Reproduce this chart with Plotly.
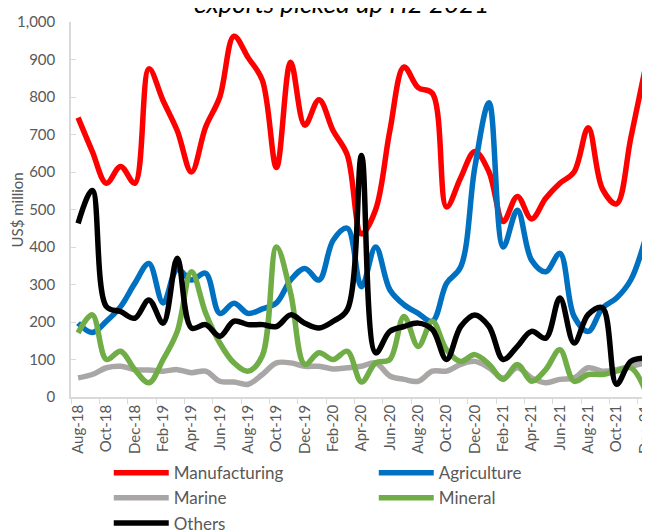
import plotly.graph_objects as go

months = ["Aug-18", "Sep-18", "Oct-18", "Nov-18", "Dec-18", "Jan-19", "Feb-19", "Mar-19", "Apr-19",
          "May-19", "Jun-19", "Jul-19", "Aug-19", "Sep-19", "Oct-19", "Nov-19", "Dec-19", "Jan-20",
          "Feb-20", "Mar-20", "Apr-20", "May-20", "Jun-20", "Jul-20", "Aug-20", "Sep-20", "Oct-20",
          "Nov-20", "Dec-20", "Jan-21", "Feb-21", "Mar-21", "Apr-21", "May-21", "Jun-21", "Jul-21",
          "Aug-21", "Sep-21", "Oct-21", "Nov-21", "Dec-21"]

manufacturing = [745, 655, 570, 615, 570, 875, 790, 710, 600, 720, 800, 962, 905, 845, 612, 893, 725,
                 793, 710, 645, 435, 500, 710, 880, 825, 810, 507, 585, 655, 600, 468, 535, 475, 530,
                 570, 600, 718, 555, 515, 690, 872]
agriculture = [197, 172, 202, 241, 303, 356, 251, 340, 312, 330, 223, 250, 223, 235, 251, 312, 343,
               312, 418, 450, 294, 400, 286, 246, 223, 202, 303, 347, 613, 785, 400, 498, 365, 334,
               383, 215, 175, 237, 264, 312, 418]
marine = [51, 60, 78, 82, 73, 72, 69, 73, 65, 69, 42, 40, 34, 60, 91, 91, 82, 82, 75, 78, 82, 91, 56,
          47, 42, 69, 69, 87, 95, 78, 51, 78, 51, 38, 47, 51, 78, 69, 73, 82, 91]
mineral = [171, 219, 100, 122, 73, 38, 100, 175, 334, 224, 144, 91, 69, 110, 400, 277, 87, 118, 100,
           122, 40, 91, 100, 215, 135, 202, 126, 95, 113, 87, 47, 87, 42, 73, 126, 42, 60, 60, 69, 78, 20]
others = [463, 551, 241, 228, 210, 259, 197, 370, 184, 193, 162, 202, 193, 193, 188, 219, 197, 184,
          202, 233, 644, 118, 175, 188, 197, 180, 100, 188, 219, 188, 100, 135, 175, 157, 264, 144,
          220, 238, 34, 95, 104]

tick_labels = months[::2]

series = [
    ("Manufacturing", manufacturing, "#FF0000"),
    ("Agriculture", agriculture, "#0070C0"),
    ("Marine", marine, "#A9A6A6"),
    ("Mineral", mineral, "#70AD47"),
    ("Others", others, "#000000"),
]

FONT = "Lato, 'Liberation Sans', Arial, sans-serif"
GREY = "#595959"

fig = go.Figure()
for name, vals, col in series:
    fig.add_trace(go.Scatter(
        x=months, y=vals, name=name, mode="lines",
        line=dict(color=col, width=5.5, shape="spline", smoothing=1.0),
    ))

fig.update_layout(
    width=650, height=531,
    margin=dict(l=63, r=6, t=14, b=141.5, pad=0, autoexpand=False),
    paper_bgcolor="white", plot_bgcolor="white",
    font=dict(family=FONT, size=15, color=GREY),
    showlegend=True,
    legend=dict(
        orientation="h", x=0.065, xanchor="left", y=-0.155, yanchor="top",
        font=dict(family=FONT, size=17, color=GREY),
        entrywidth=195, itemwidth=55, tracegroupgap=0,
        bgcolor="rgba(0,0,0,0)",
    ),
    annotations=[
        dict(
            text="exports picked up H2 2021", xref="paper", yref="paper",
            x=0.466, y=1.05, xanchor="center", yanchor="middle", showarrow=False,
            font=dict(family=FONT, size=26, color="#000000", style="italic"),
        ),
        dict(
            text="US$ million", xref="paper", yref="paper",
            x=-0.093, y=0.5, xanchor="center", yanchor="middle", showarrow=False,
            textangle=-90, font=dict(family=FONT, size=15, color=GREY),
        ),
    ],
)

fig.update_xaxes(
    type="category", categoryorder="array", categoryarray=months,
    range=[-0.5, 40.5], automargin=False,
    tickmode="array", tickvals=tick_labels, ticktext=tick_labels,
    tickson="boundaries", ticks="outside", ticklen=5, tickcolor="#D9D9D9",
    tickangle=-90, tickfont=dict(size=15, color=GREY), ticklabeloverflow="allow",
    showline=True, linecolor="#D9D9D9", linewidth=1.5,
    showgrid=False, zeroline=False,
)
fig.update_yaxes(
    range=[0, 1000], tickmode="linear", tick0=0, dtick=100, tickformat=",",
    ticklabelposition="outside", ticklabelstandoff=11,
    ticks="inside", ticklen=5, tickcolor="#D9D9D9", automargin=False,
    showline=True, linecolor="#D9D9D9", linewidth=1.5,
    showgrid=False, zeroline=False,
    tickfont=dict(size=15, color=GREY),
)

fig.write_html("out.html")
